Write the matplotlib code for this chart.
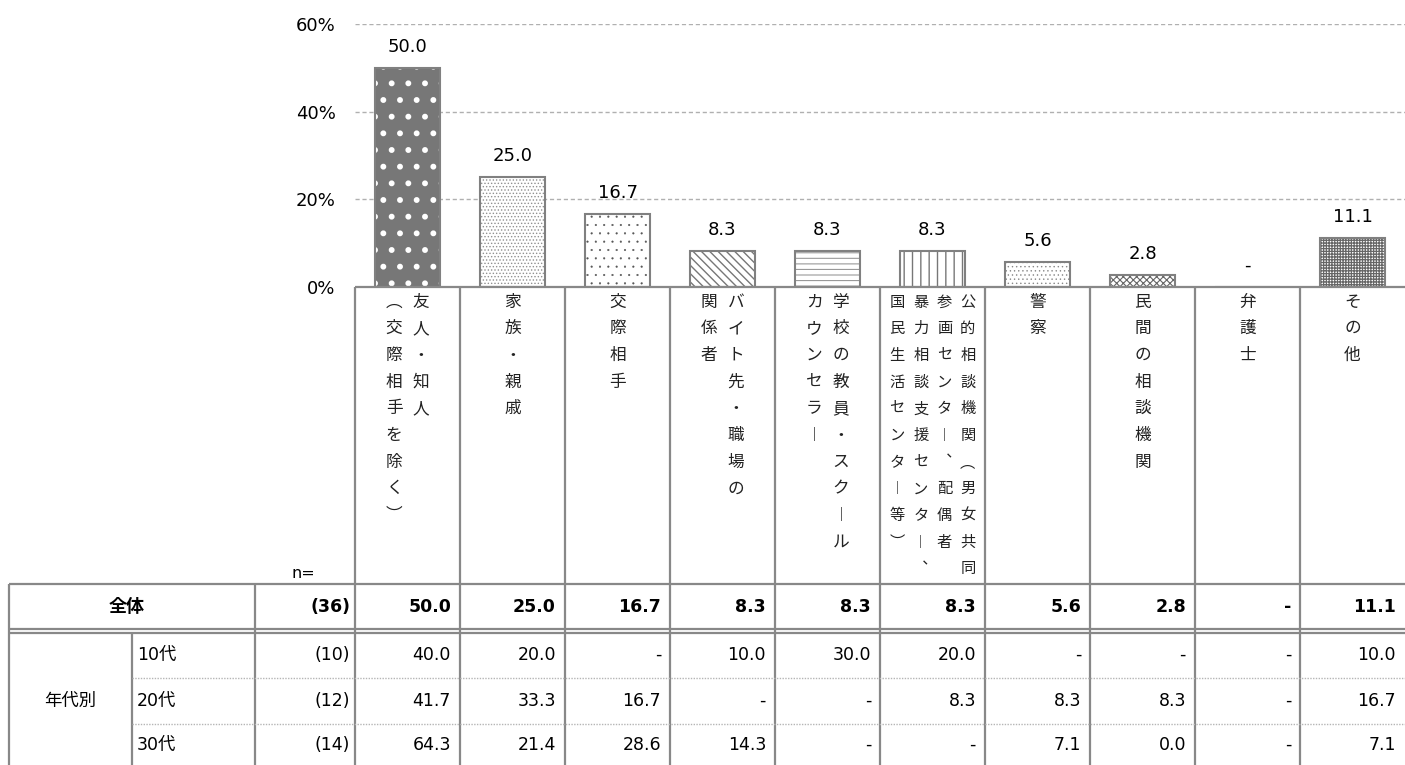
import matplotlib.pyplot as plt

plt.rcParams['font.family'] = ['DejaVu Sans', 'Noto Sans CJK JP']

# 相談先（縦書きラベル、各要素が1列）
categories = [
    ["友人・知人", "（交際相手を除く）"],
    ["家族・親戚"],
    ["交際相手"],
    ["バイト先・職場の", "関係者"],
    ["学校の教員・スクール", "カウンセラー"],
    ["公的相談機関（男女共同", "参画センター、配偶者", "暴力相談支援センター、", "国民生活センター等）"],
    ["警察"],
    ["民間の相談機関"],
    ["弁護士"],
    ["その他"],
]
total_label = "全体"
total_n = 36
total = [50.0, 25.0, 16.7, 8.3, 8.3, 8.3, 5.6, 2.8, None, 11.1]

group_label = "年代別"
age_labels = ["10代", "20代", "30代"]
age_n = [10, 12, 14]
age_10 = [40.0, 20.0, None, 10.0, 30.0, 20.0, None, None, None, 10.0]
age_20 = [41.7, 33.3, 16.7, None, None, 8.3, 8.3, 8.3, None, 16.7]
age_30 = [64.3, 21.4, 28.6, 14.3, None, None, 7.1, 0.0, None, 7.1]
age_rows = [age_10, age_20, age_30]

yticks = [0, 20, 40, 60]

# bar styles: fill, hatch colour, hatch, hatch linewidth
styles = [
    ("#777777", "white", ".", 1.8),
    ("white", "#909090", ".....", 0.6),
    ("white", "#555555", "..", 0.3),
    ("white", "#777777", "\\\\\\\\", 1.0),
    ("white", "#999999", "---", 0.8),
    ("white", "#777777", "||", 1.0),
    ("white", "#888888", "....", 0.5),
    ("white", "#666666", "xxxxx", 0.8),
    ("white", "#777777", "", 0.8),
    ("white", "#666666", "++++++", 0.9),
]

# vertical-writing forms
vforms = {"（": "︵", "）": "︶", "ー": "︱", "、": "︑"}

W, H = 1405, 765
x0, cw = 355, 105
y_base, y_top = 287, 24
line_c = "#888888"

fig = plt.figure(figsize=(W / 100, H / 100), dpi=100)
ax = fig.add_axes([x0 / W, (H - y_base) / H, (W - x0) / W, (y_base - y_top) / H])
ax.set_xlim(-0.5, len(total) - 0.5)
ax.set_ylim(0, 60)
for s in ax.spines.values():
    s.set_visible(False)
ax.set_xticks([])
ax.set_yticks(yticks)
ax.set_yticklabels([f"{t}%" for t in yticks], fontsize=13)
ax.tick_params(axis="y", length=0, pad=14)
for t in yticks[1:]:
    ax.axhline(t, color="#b0b0b0", lw=1, ls=(0, (3, 2)), zorder=0)

for i, v in enumerate(total):
    h = v if v is not None else 0
    fill, hcol, hatch, hlw = styles[i]
    plt.rcParams['hatch.linewidth'] = hlw
    ax.bar(i, h, 0.62, color=fill, edgecolor="none", zorder=2)
    hb = ax.bar(i, h, 0.62, facecolor="none", edgecolor=hcol, hatch=hatch, linewidth=0, zorder=3)
    for p in hb:
        if hasattr(p, "set_hatch_linewidth"):
            p.set_hatch_linewidth(hlw)
    ax.bar(i, h, 0.62, facecolor="none", edgecolor="#808080", linewidth=1.5, zorder=4)
    ax.annotate("-" if v is None else f"{v:.1f}", (i, h), xytext=(0, 11.5),
                textcoords="offset points", ha="center", va="baseline", fontsize=13)

# table / labels overlay in pixel coordinates
tab = fig.add_axes([0, 0, 1, 1])
tab.set_xlim(0, W)
tab.set_ylim(H, 0)
tab.axis("off")
tab.patch.set_alpha(0)

n_cols = len(total)
rights = [x0 + cw * (k + 1) for k in range(n_cols)]
tab.hlines(y_base, x0, W, color=line_c, lw=1.6)
for k in range(n_cols):
    tab.vlines(x0 + cw * k, y_base, H, color=line_c, lw=1.6)
tab.vlines([9, 255], 584, H, color=line_c, lw=1.6)
tab.vlines(132, 632, H, color=line_c, lw=1.6)
tab.hlines([584, 629, 633], 9, W, color=line_c, lw=1.6)
tab.hlines([678, 724], 132, W, color="#b5b5b5", lw=1, ls=(0, (1, 1)))

# vertical category labels
for k, lines in enumerate(categories):
    cx = x0 + cw * (k + 0.5)
    nl = len(lines)
    sp = 23.5 if nl > 2 else 27
    fs = 11 if nl > 2 else 12
    for j, line in enumerate(lines):
        lx = cx + (nl - 1) / 2 * sp - j * sp
        for c, ch in enumerate(line):
            cy = 302 + c * 26.7
            tab.text(lx, cy, vforms.get(ch, ch), ha="center", va="center",
                     fontsize=fs, family="Noto Sans CJK JP", color="#222222")

tab.text(303, 573, "n=", ha="center", va="center", fontsize=11.5)

# total row
ty = 607
tab.text(127, ty, total_label, ha="center", va="center", fontsize=13, fontweight="bold")
tab.text(350, ty, f"({total_n})", ha="right", va="center", fontsize=12.5, fontweight="bold")
for k, v in enumerate(total):
    tab.text(rights[k] - 9, ty, "-" if v is None else f"{v:.1f}", ha="right", va="center",
             fontsize=12.5, fontweight="bold")

# age rows
row_y = [655, 701, 745]
tab.text(70, 701, group_label, ha="center", va="center", fontsize=12.5)
for r, vals in enumerate(age_rows):
    yy = row_y[r]
    tab.text(137, yy, age_labels[r], ha="left", va="center", fontsize=12.5)
    tab.text(350, yy, f"({age_n[r]})", ha="right", va="center", fontsize=12.5)
    for k, v in enumerate(vals):
        tab.text(rights[k] - 9, yy, "-" if v is None else f"{v:.1f}", ha="right", va="center",
                 fontsize=12.5)

fig.savefig("out.png", dpi=100)
